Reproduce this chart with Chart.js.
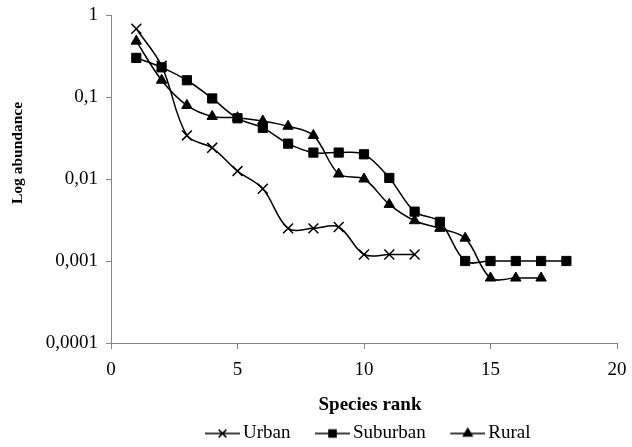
<!DOCTYPE html>
<html>
<head>
<meta charset="utf-8">
<script src="https://cdn.jsdelivr.net/npm/chart.js@4/dist/chart.umd.min.js"></script>
<style>
  html, body { margin: 0; padding: 0; background: #fff; overflow: hidden; }
  #wrap { width: 632px; height: 447px; }
</style>
</head>
<body>
<div id="wrap"><canvas id="chart"></canvas></div>
<script>
// DATA
const ranks = [1, 2, 3, 4, 5, 6, 7, 8, 9, 10, 11, 12, 13, 14, 15, 16, 17, 18];
const urban = [0.68, 0.24, 0.034, 0.024, 0.0125, 0.0076, 0.0025, 0.0025, 0.0026, 0.0012, 0.0012, 0.0012];
const suburban = [0.30, 0.23, 0.16, 0.096, 0.055, 0.042, 0.027, 0.021, 0.021, 0.020, 0.0103, 0.004, 0.003, 0.001, 0.001, 0.001, 0.001, 0.001];
const rural = [0.48, 0.16, 0.079, 0.058, 0.056, 0.051, 0.044, 0.034, 0.0115, 0.0100, 0.0049, 0.0031, 0.0025, 0.0019, 0.00062, 0.00062, 0.00062];
const seriesNames = ["Urban", "Suburban", "Rural"];
const yTickValues = [0.0001, 0.001, 0.01, 0.1, 1];
const yTickLabels = ["0,0001", "0,001", "0,01", "0,1", "1"];
const xTitle = "Species rank";
const yTitle = "Log abundance";

const serif = "'Liberation Serif', 'Times New Roman', serif";
const axisGray = "#868686";

//* turn a value list into points on the rank axis
function toPoints(values) {
  return values.map((v, i) => ({ x: ranks[i], y: v }));
}

//* legend icon: short line with the marker on it
function legendIcon(style, radius) {
  const c = document.createElement("canvas");
  c.width = 61;
  c.height = 16;
  const g = c.getContext("2d");
  g.strokeStyle = "#000";
  g.fillStyle = "#000";
  g.lineWidth = 1.5;
  g.beginPath();
  g.moveTo(26, 8);
  g.lineTo(61, 8);
  g.stroke();
  Chart.helpers.drawPoint(g, { pointStyle: style, radius: radius, borderWidth: 1.5, rotation: 0 }, 43.5, 8);
  return c;
}

const legendIcons = [
  legendIcon("crossRot", 5.5),
  legendIcon("rect", 5),
  legendIcon("triangle", 5),
];

// nudge the legend row a little to the left, like the original
const legendShift = {
  id: "legendShift",
  afterLayout(chart) {
    if (chart.legend) {
      chart.legend.left -= 6;
      chart.legend.right -= 6;
    }
  },
};

// axis titles sit a bit off-centre in the original, so draw them here
const axisTitles = {
  id: "axisTitles",
  afterDraw(chart) {
    const { ctx, chartArea } = chart;
    ctx.save();
    ctx.fillStyle = "#000";
    ctx.textAlign = "center";
    ctx.textBaseline = "middle";
    ctx.font = "bold 19px " + serif;
    ctx.fillText(xTitle, (chartArea.left + chartArea.right) / 2 + 6, chartArea.bottom + 62);
    ctx.font = "bold 15.5px " + serif;
    ctx.translate(18, (chartArea.top + chartArea.bottom) / 2 - 26);
    ctx.rotate(-Math.PI / 2);
    ctx.fillText(yTitle, 0, 0);
    ctx.restore();
  },
};

const ctx = document.getElementById("chart");

new Chart(ctx, {
  type: "line",
  data: {
    datasets: [
      {
        label: seriesNames[0],
        data: toPoints(urban),
        pointStyle: "crossRot",
        pointRadius: 7,
        pointBorderWidth: 1.5,
      },
      {
        label: seriesNames[1],
        data: toPoints(suburban),
        pointStyle: "rect",
        pointRadius: 6.5,
        pointBorderWidth: 1,
      },
      {
        label: seriesNames[2],
        data: toPoints(rural),
        pointStyle: "triangle",
        pointRadius: 6,
        pointBorderWidth: 1,
      },
    ].map((ds) => ({
      ...ds,
      borderColor: "#000",
      backgroundColor: "#000",
      pointBackgroundColor: "#000",
      pointBorderColor: "#000",
      borderWidth: 1.5,
      tension: 0.35,
      fill: false,
    })),
  },
  options: {
    responsive: true,
    maintainAspectRatio: false,
    animation: false,
    layout: { padding: { top: 15, right: 15, bottom: -6, left: 0 } },
    scales: {
      x: {
        type: "linear",
        min: 0,
        max: 20,
        border: { color: axisGray, width: 1 },
        grid: { drawOnChartArea: false, drawTicks: true, tickLength: 6, color: axisGray },
        ticks: { stepSize: 5, color: "#000", padding: 10, font: { family: serif, size: 19 } },
        afterFit: (scale) => {
          scale.height = 76;
          scale.paddingLeft = 0;
          scale.paddingRight = 0;
        },
      },
      y: {
        type: "logarithmic",
        min: 0.0001,
        max: 1,
        border: { color: axisGray, width: 1 },
        grid: { drawOnChartArea: false, drawTicks: true, tickLength: 5, color: axisGray },
        afterBuildTicks: (scale) => {
          scale.ticks = yTickValues.map((v) => ({ value: v }));
        },
        ticks: {
          color: "#000",
          padding: 8,
          font: { family: serif, size: 19 },
          callback: (value) => {
            const i = yTickValues.findIndex((v) => Math.abs(v - value) / v < 1e-6);
            return i >= 0 ? yTickLabels[i] : "";
          },
        },
        afterFit: (scale) => {
          scale.width = 111;
          scale.paddingTop = 0;
          scale.paddingBottom = 0;
        },
      },
    },
    plugins: {
      tooltip: { enabled: false },
      legend: {
        position: "bottom",
        fullSize: false,
        labels: {
          usePointStyle: true,
          pointStyleWidth: 48,
          boxHeight: 16,
          padding: 5,
          color: "#000",
          font: { family: serif, size: 19 },
          generateLabels: (chart) => {
            const items = Chart.defaults.plugins.legend.labels.generateLabels(chart);
            items.forEach((item, i) => {
              item.pointStyle = legendIcons[i];
            });
            return items;
          },
        },
      },
    },
  },
  plugins: [legendShift, axisTitles],
});
</script>
</body>
</html>
